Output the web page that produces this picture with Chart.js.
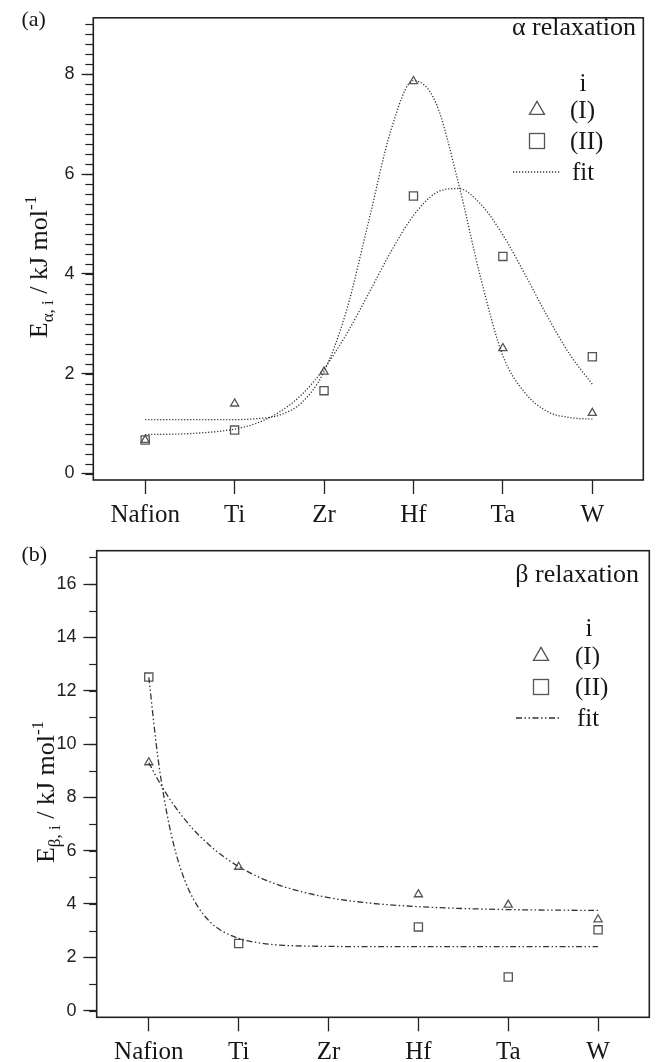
<!DOCTYPE html>
<html>
<head>
<meta charset="utf-8">
<script src="https://cdn.jsdelivr.net/npm/chart.js@4.4.0/dist/chart.umd.min.js"></script>
<style>
  body { margin: 0; background: #fff; }
  #wrap { position: relative; width: 660px; height: 1062px; }
  canvas { position: absolute; left: 0; }
  #chartA { top: 0; }
  #chartB { top: 530px; }
</style>
</head>
<body>
<div id="wrap">
  <canvas id="chartA" width="660" height="530"></canvas>
  <canvas id="chartB" width="660" height="532"></canvas>
</div>
<script>
// categories on the x axis
const categories = ['Nafion', 'Ti', 'Zr', 'Hf', 'Ta', 'W'];

// (a) alpha relaxation, kJ/mol
const alphaI  = [0.67, 1.40, 2.04, 7.86, 2.51, 1.21];
const alphaII = [0.67, 0.87, 1.66, 5.56, 4.35, 2.34];
const alphaFitX   = [0, 0.5, 1, 1.25, 1.5, 1.75, 2, 2.25, 2.5, 2.75, 3, 3.25, 3.5, 3.75, 4, 4.25, 4.5, 4.75, 5];
const alphaFitI   = [1.08, 1.08, 1.08, 1.10, 1.17, 1.42, 2.04, 3.26, 5.06, 6.89, 7.87, 7.43, 5.84, 3.93, 2.36, 1.61, 1.24, 1.12, 1.09];
const alphaFitII  = [0.78, 0.80, 0.89, 1.01, 1.23, 1.58, 2.10, 2.79, 3.61, 4.45, 5.17, 5.62, 5.71, 5.40, 4.78, 3.98, 3.14, 2.38, 1.79];
const alphaTicks  = [0, 2, 4, 6, 8];

// (b) beta relaxation, kJ/mol (no Zr point)
const betaI  = [9.31, 5.39, null, 4.36, 3.97, 3.42];
const betaII = [12.51, 2.52, null, 3.14, 1.26, 3.03];
const betaFitX  = [0, 0.1, 0.2, 0.3, 0.4, 0.5, 0.6, 0.75, 1, 1.25, 1.5, 2, 2.5, 3, 3.5, 4, 4.5, 5];
const betaFitI  = [9.30, 8.67, 8.11, 7.61, 7.17, 6.78, 6.44, 5.99, 5.40, 4.97, 4.65, 4.24, 4.02, 3.90, 3.83, 3.79, 3.77, 3.76];
const betaFitII = [12.50, 9.52, 7.42, 5.93, 4.89, 4.16, 3.64, 3.13, 2.71, 2.53, 2.45, 2.41, 2.40, 2.40, 2.40, 2.40, 2.40, 2.40];
const betaTicks = [0, 2, 4, 6, 8, 10, 12, 14, 16];

const SERIF = '"Liberation Serif", "Times New Roman", serif';
const SANS = '"Liberation Sans", Arial, sans-serif';
const INK = '#161616';
const MARK = '#555';

function pts(arr) {
  return categories.map((c, i) => ({ x: i, y: arr[i] })).filter(p => p.y != null);
}
function line(xs, ys) {
  return xs.map((x, i) => ({ x: x, y: ys[i] }));
}

function triangle(ctx, x, y, side) {
  const h = side * Math.sqrt(3) / 2;
  ctx.beginPath();
  ctx.moveTo(x, y - h * 2 / 3);
  ctx.lineTo(x + side / 2, y + h / 3);
  ctx.lineTo(x - side / 2, y + h / 3);
  ctx.closePath();
  ctx.stroke();
}

// y title with sub/superscripts, rotated
function drawRich(ctx, parts, cx, cy) {
  ctx.save();
  ctx.translate(cx, cy);
  ctx.rotate(-Math.PI / 2);
  let total = 0;
  parts.forEach(p => {
    ctx.font = p[1] + 'px ' + SERIF;
    p.w = ctx.measureText(p[0]).width;
    total += p.w;
  });
  let x = -total / 2;
  ctx.fillStyle = INK;
  ctx.textBaseline = 'alphabetic';
  parts.forEach(p => {
    ctx.font = p[1] + 'px ' + SERIF;
    ctx.fillText(p[0], x, p[2]);
    x += p.w;
  });
  ctx.restore();
}

const decor = {
  id: 'decor',
  afterDraw(chart, args, o) {
    const ctx = chart.ctx, a = chart.chartArea, ys = chart.scales.y;
    ctx.save();
    // frame
    ctx.strokeStyle = '#222';
    ctx.lineWidth = 1.6;
    ctx.strokeRect(a.left, a.top, a.right - a.left, a.bottom - a.top);
    // minor ticks
    ctx.lineWidth = 1.2;
    for (let v = 0; v <= o.minorMax + 1e-6; v += o.minorStep) {
      const py = Math.round(ys.getPixelForValue(v)) + 0.5;
      ctx.beginPath();
      ctx.moveTo(a.left - o.minorLen, py);
      ctx.lineTo(a.left, py);
      ctx.stroke();
    }
    // panel tag and title
    ctx.fillStyle = INK;
    ctx.textBaseline = 'alphabetic';
    ctx.font = '22px ' + SERIF;
    ctx.textAlign = 'left';
    ctx.fillText(o.tag, 21.5, o.tagY);
    ctx.font = '26px ' + SERIF;
    ctx.textAlign = 'right';
    ctx.fillText(o.title, o.titleX, o.titleY);

    // legend
    const L = o.legend;
    ctx.font = '25px ' + SERIF;
    ctx.textAlign = 'center';
    ctx.fillText('i', L.iX, L.iY);
    ctx.textAlign = 'left';
    ctx.fillText('(I)', L.textX, L.rowI + 8);
    ctx.fillText('(II)', L.textX, L.rowII + 8);
    ctx.fillText('fit', L.fitTextX, L.rowFit + 8);
    ctx.strokeStyle = MARK;
    ctx.lineWidth = 1.3;
    triangle(ctx, L.markX, L.rowI, 15);
    ctx.strokeRect(L.markX - 7.5, L.rowII - 7.5, 15, 15);
    ctx.strokeStyle = '#333';
    ctx.setLineDash(o.dash);
    ctx.beginPath();
    ctx.moveTo(L.lineX0, L.rowFit);
    ctx.lineTo(L.lineX1, L.rowFit);
    ctx.stroke();
    ctx.setLineDash([]);
    ctx.restore();

    drawRich(ctx, [['E', 26, 0], [o.sub, 17, 6], [' / kJ mol', 26, 0], ['-1', 17, -11]], o.yTitleX, o.yTitleY);
  }
};

function makeChart(id, s) {
  const fitStyle = {
    showLine: true, pointRadius: 0, borderColor: '#333', borderWidth: 1.3,
    borderDash: s.dash, cubicInterpolationMode: 'monotone', fill: false
  };
  return new Chart(document.getElementById(id).getContext('2d'), {
    type: 'scatter',
    data: {
      datasets: [
        Object.assign({ label: 'fit I', data: line(s.fitX, s.fitI) }, fitStyle),
        Object.assign({ label: 'fit II', data: line(s.fitX, s.fitII) }, fitStyle),
        {
          label: '(I)', data: pts(s.serI), pointStyle: 'triangle', pointRadius: 4.7,
          borderColor: MARK, backgroundColor: 'rgba(0,0,0,0)', pointBorderWidth: 1.3
        },
        {
          label: '(II)', data: pts(s.serII), pointStyle: 'rect', pointRadius: 5.8,
          borderColor: MARK, backgroundColor: 'rgba(0,0,0,0)', pointBorderWidth: 1.3
        }
      ]
    },
    options: {
      responsive: false,
      animation: false,
      layout: { padding: { left: 0, top: s.top, right: s.right, bottom: 0 } },
      scales: {
        x: {
          type: 'linear', min: -0.58, max: 5.57,
          afterBuildTicks: sc => { sc.ticks = categories.map((c, i) => ({ value: i })); },
          afterFit: sc => { sc.height = s.xHeight; },
          ticks: {
            autoSkip: false, maxRotation: 0, padding: 6, color: INK,
            font: { family: SERIF, size: 25 },
            callback: v => categories[v]
          },
          grid: { drawOnChartArea: false, tickLength: 14, tickColor: '#222', tickWidth: 1.3 },
          border: { display: false }
        },
        y: {
          min: s.yMin, max: s.yMax,
          afterBuildTicks: sc => { sc.ticks = s.ticks.map(v => ({ value: v })); },
          afterFit: sc => { sc.width = s.yWidth; },
          ticks: { padding: 7, color: '#222', font: { family: SANS, size: 18 } },
          grid: { drawOnChartArea: false, tickLength: s.majorLen, tickColor: '#222', tickWidth: 1.3 },
          border: { display: false }
        }
      },
      plugins: {
        legend: { display: false },
        tooltip: { enabled: false },
        decor: s.decor
      }
    },
    plugins: [decor]
  });
}

makeChart('chartA', {
  fitX: alphaFitX, fitI: alphaFitI, fitII: alphaFitII, serI: alphaI, serII: alphaII,
  ticks: alphaTicks, yMin: -0.13, yMax: 9.13,
  top: 11.7, right: 16.7, xHeight: 50, yWidth: 93.3, majorLen: 11.7,
  dash: [1.2, 1.8],
  decor: {
    minorMax: 9.0, minorStep: 0.2, minorLen: 8,
    tag: '(a)', tagY: 26, title: 'α relaxation', titleX: 636, titleY: 35,
    sub: 'α, i', yTitleX: 47, yTitleY: 267, dash: [1.2, 1.8],
    legend: { iX: 583, iY: 91, markX: 537, rowI: 110, rowII: 141, rowFit: 172,
              textX: 570, fitTextX: 572, lineX0: 513, lineX1: 560 }
  }
});

makeChart('chartB', {
  fitX: betaFitX, fitI: betaFitI, fitII: betaFitII, serI: betaI, serII: betaII,
  ticks: betaTicks, yMin: -0.25, yMax: 17.25,
  top: 20.7, right: 10.7, xHeight: 44.7, yWidth: 96.7, majorLen: 13.3,
  dash: [6, 2.5, 1.5, 2.5, 1.5, 2.5],
  decor: {
    minorMax: 17, minorStep: 1, minorLen: 7.5,
    tag: '(b)', tagY: 31, title: 'β relaxation', titleX: 639, titleY: 52,
    sub: 'β, i', yTitleX: 54, yTitleY: 262, dash: [6, 2.5, 1.5, 2.5, 1.5, 2.5],
    legend: { iX: 589, iY: 106, markX: 541, rowI: 126, rowII: 157, rowFit: 188,
              textX: 575, fitTextX: 577, lineX0: 516, lineX1: 561 }
  }
});
</script>
</body>
</html>
